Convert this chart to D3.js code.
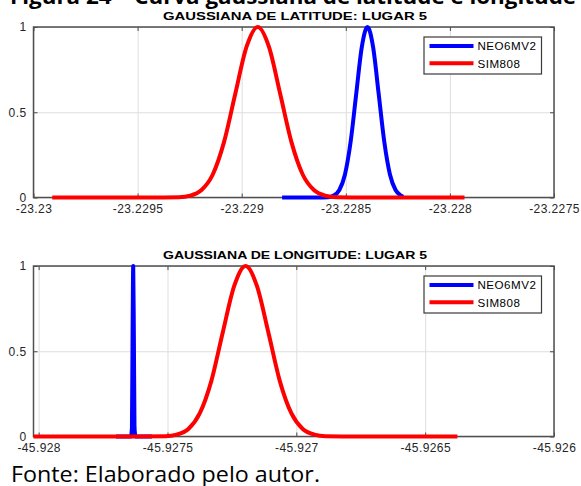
<!DOCTYPE html>
<html>
<head>
<meta charset="utf-8">
<script src="https://cdn.jsdelivr.net/npm/d3@7"></script>
<style>
    body { margin: 0; background: #fff; }
    svg { display: block; }
    .tick-label { font-family: "Liberation Sans", Arial, sans-serif; font-size: 12px; fill: #262626; letter-spacing: 0.4px; }
    .title { font-family: "Liberation Sans", Arial, sans-serif; font-size: 11.5px; font-weight: bold; fill: #000; }
    .legend-text { font-family: "Liberation Sans", Arial, sans-serif; font-size: 11.6px; fill: #000; letter-spacing: 0.5px; }
</style>
</head>
<body>
<div id="chart"></div>
<script>
    // Tick values / labels
    var yTicks = [0, 0.5, 1];
    var yLabels = ["0", "0.5", "1"];
    var latTicks = [-23.23, -23.2295, -23.229, -23.2285, -23.228, -23.2275];
    var latLabels = ["-23.23", "-23.2295", "-23.229", "-23.2285", "-23.228", "-23.2275"];
    var lonTicks = [-45.928, -45.9275, -45.927, -45.9265, -45.926];
    var lonLabels = ["-45.928", "-45.9275", "-45.927", "-45.9265", "-45.926"];
    var latDomain = [-23.23, -23.2275];
    var lonDomain = [-45.92802, -45.926];

    var seriesNames = ["NEO6MV2", "SIM808"];
    var seriesColors = ["#0000ff", "#ff0000"];

    // Latitude curves [x, y]
    var latNeo = [
        [-23.228806, 0], [-23.228640, 0], [-23.228585, 0.002], [-23.228558, 0.011], [-23.228531, 0.044],
        [-23.228504, 0.135], [-23.228477, 0.325], [-23.228450, 0.607], [-23.228423, 0.883],
        [-23.228396, 1], [-23.228369, 0.883], [-23.228342, 0.607], [-23.228315, 0.325],
        [-23.228288, 0.135], [-23.228261, 0.044], [-23.228234, 0.011], [-23.228224, 0.004]
    ];
    var latSim = [
        [-23.22991, 0], [-23.22945, 0], [-23.229301, 0.002], [-23.229247, 0.011], [-23.229193, 0.044],
        [-23.229139, 0.135], [-23.229085, 0.325], [-23.229031, 0.607], [-23.228977, 0.883],
        [-23.228923, 1], [-23.228869, 0.883], [-23.228815, 0.607], [-23.228761, 0.325],
        [-23.228707, 0.135], [-23.228653, 0.044], [-23.228599, 0.011], [-23.228545, 0.002],
        [-23.22840, 0], [-23.22793, 0]
    ];

    // Longitude curves [x, y]
    var lonNeo = [
        [-45.92770, 0], [-45.927642, 0], [-45.927638, 0.05], [-45.9276355, 0.6], [-45.927633, 1],
        [-45.9276305, 0.6], [-45.927628, 0.05], [-45.927624, 0], [-45.92756, 0]
    ];
    var lonSim = [
        [-45.92802, 0], [-45.92765, 0], [-45.927508, 0.002], [-45.927464, 0.011], [-45.927419, 0.044],
        [-45.927375, 0.135], [-45.927330, 0.325], [-45.927286, 0.607], [-45.927241, 0.883],
        [-45.927197, 1], [-45.927153, 0.883], [-45.927108, 0.607], [-45.927064, 0.325],
        [-45.927019, 0.135], [-45.926975, 0.044], [-45.926930, 0.011], [-45.926886, 0.002],
        [-45.92675, 0], [-45.926375, 0]
    ];

    var W = 581, H = 486;
    var svg = d3.select("#chart").append("svg").attr("width", W).attr("height", H);

    // Caption (cut at the top of the page)
    svg.append("text")
        .attr("x", 10).attr("y", 4)
        .attr("textLength", 566).attr("lengthAdjust", "spacingAndGlyphs")
        .style("font-family", "'Open Sans', sans-serif").style("font-weight", "bold").style("font-size", "21px")
        .text("Figura 24 – Curva gaussiana de latitude e longitude");

    svg.append("text")
        .attr("x", 11).attr("y", 481.5)
        .attr("textLength", 309).attr("lengthAdjust", "spacingAndGlyphs")
        .style("font-family", "'Open Sans', sans-serif").style("font-size", "21px").style("fill", "#000")
        .text("Fonte: Elaborado pelo autor.");

    var drawPanel = function(cfg) {
        var left = 33.5, right = 554, top = cfg.top, bottom = cfg.top + 170.5;
        var x = d3.scaleLinear().domain(cfg.domain).range([left, right]);
        var y = d3.scaleLinear().domain([0, 1]).range([bottom, top]);
        var g = svg.append("g");

        // grid
        g.append("g").attr("transform", "translate(0," + bottom + ")")
            .call(d3.axisBottom(x).tickValues(cfg.ticks).tickSize(-(bottom - top)).tickFormat(""))
            .call(function(s) { s.select(".domain").remove(); s.selectAll("line").attr("stroke", "#dedede"); });
        g.append("g").attr("transform", "translate(" + left + ",0)")
            .call(d3.axisLeft(y).tickValues(yTicks).tickSize(-(right - left)).tickFormat(""))
            .call(function(s) { s.select(".domain").remove(); s.selectAll("line").attr("stroke", "#dedede"); });

        // inward tick marks
        var tickStyle = function(s) { s.select(".domain").remove(); s.selectAll("line").attr("stroke", "#4a4a4a"); };
        g.append("g").attr("transform", "translate(0," + bottom + ")")
            .call(d3.axisBottom(x).tickValues(cfg.ticks).tickSize(-4).tickFormat("")).call(tickStyle);
        g.append("g").attr("transform", "translate(0," + top + ")")
            .call(d3.axisTop(x).tickValues(cfg.ticks).tickSize(-4).tickFormat("")).call(tickStyle);
        g.append("g").attr("transform", "translate(" + left + ",0)")
            .call(d3.axisLeft(y).tickValues(yTicks).tickSize(-4).tickFormat("")).call(tickStyle);
        g.append("g").attr("transform", "translate(" + right + ",0)")
            .call(d3.axisRight(y).tickValues(yTicks).tickSize(-4).tickFormat("")).call(tickStyle);

        // box
        g.append("rect")
            .attr("x", left).attr("y", top)
            .attr("width", right - left).attr("height", bottom - top)
            .attr("fill", "none").attr("stroke", "#4f4f4f").attr("stroke-width", 1.5);

        // tick labels
        var xl = g.append("g").attr("transform", "translate(0," + bottom + ")")
            .call(d3.axisBottom(x).tickValues(cfg.ticks).tickSize(0).tickPadding(7)
                .tickFormat(function(d, i) { return cfg.labels[i]; }));
        xl.select(".domain").remove();
        xl.selectAll("text").attr("class", "tick-label").attr("fill", null);
        xl.attr("font-size", null).attr("font-family", null);

        var yl = g.append("g").attr("transform", "translate(" + left + ",0)")
            .call(d3.axisLeft(y).tickValues(yTicks).tickSize(0).tickPadding(7)
                .tickFormat(function(d, i) { return yLabels[i]; }));
        yl.select(".domain").remove();
        yl.selectAll("text").attr("class", "tick-label").attr("fill", null);
        yl.attr("font-size", null).attr("font-family", null);

        // title
        g.append("text").attr("class", "title")
            .attr("x", 163).attr("y", top - 7.5)
            .attr("textLength", 264).attr("lengthAdjust", "spacingAndGlyphs")
            .text(cfg.title);

        // curves
        var line = d3.line()
            .x(function(d) { return x(d[0]); })
            .y(function(d) { return y(d[1]); })
            .curve(d3.curveMonotoneX);
        cfg.series.forEach(function(s, i) {
            g.append("path")
                .datum(s)
                .attr("d", line)
                .attr("fill", "none")
                .attr("stroke", seriesColors[i])
                .attr("stroke-width", 4)
                .attr("stroke-linejoin", "round");
        });

        // legend
        var lg = g.append("g").attr("transform", "translate(424," + (top + 10) + ")");
        lg.append("rect").attr("width", 117.5).attr("height", 37)
            .attr("fill", "#fff").attr("stroke", "#3a3a3a").attr("stroke-width", 1.2);
        seriesNames.forEach(function(n, i) {
            var ly = 9 + i * 17.3;
            lg.append("line").attr("x1", 5.5).attr("x2", 49.5).attr("y1", ly).attr("y2", ly)
                .attr("stroke", seriesColors[i]).attr("stroke-width", 4);
            lg.append("text").attr("class", "legend-text")
                .attr("x", 53.5).attr("y", ly + 4.2).text(n);
        });
    };

    drawPanel({ top: 27, domain: latDomain, ticks: latTicks, labels: latLabels,
        title: "GAUSSIANA DE LATITUDE: LUGAR 5", series: [latNeo, latSim] });
    drawPanel({ top: 266, domain: lonDomain, ticks: lonTicks, labels: lonLabels,
        title: "GAUSSIANA DE LONGITUDE: LUGAR 5", series: [lonNeo, lonSim] });
</script>
</body>
</html>
